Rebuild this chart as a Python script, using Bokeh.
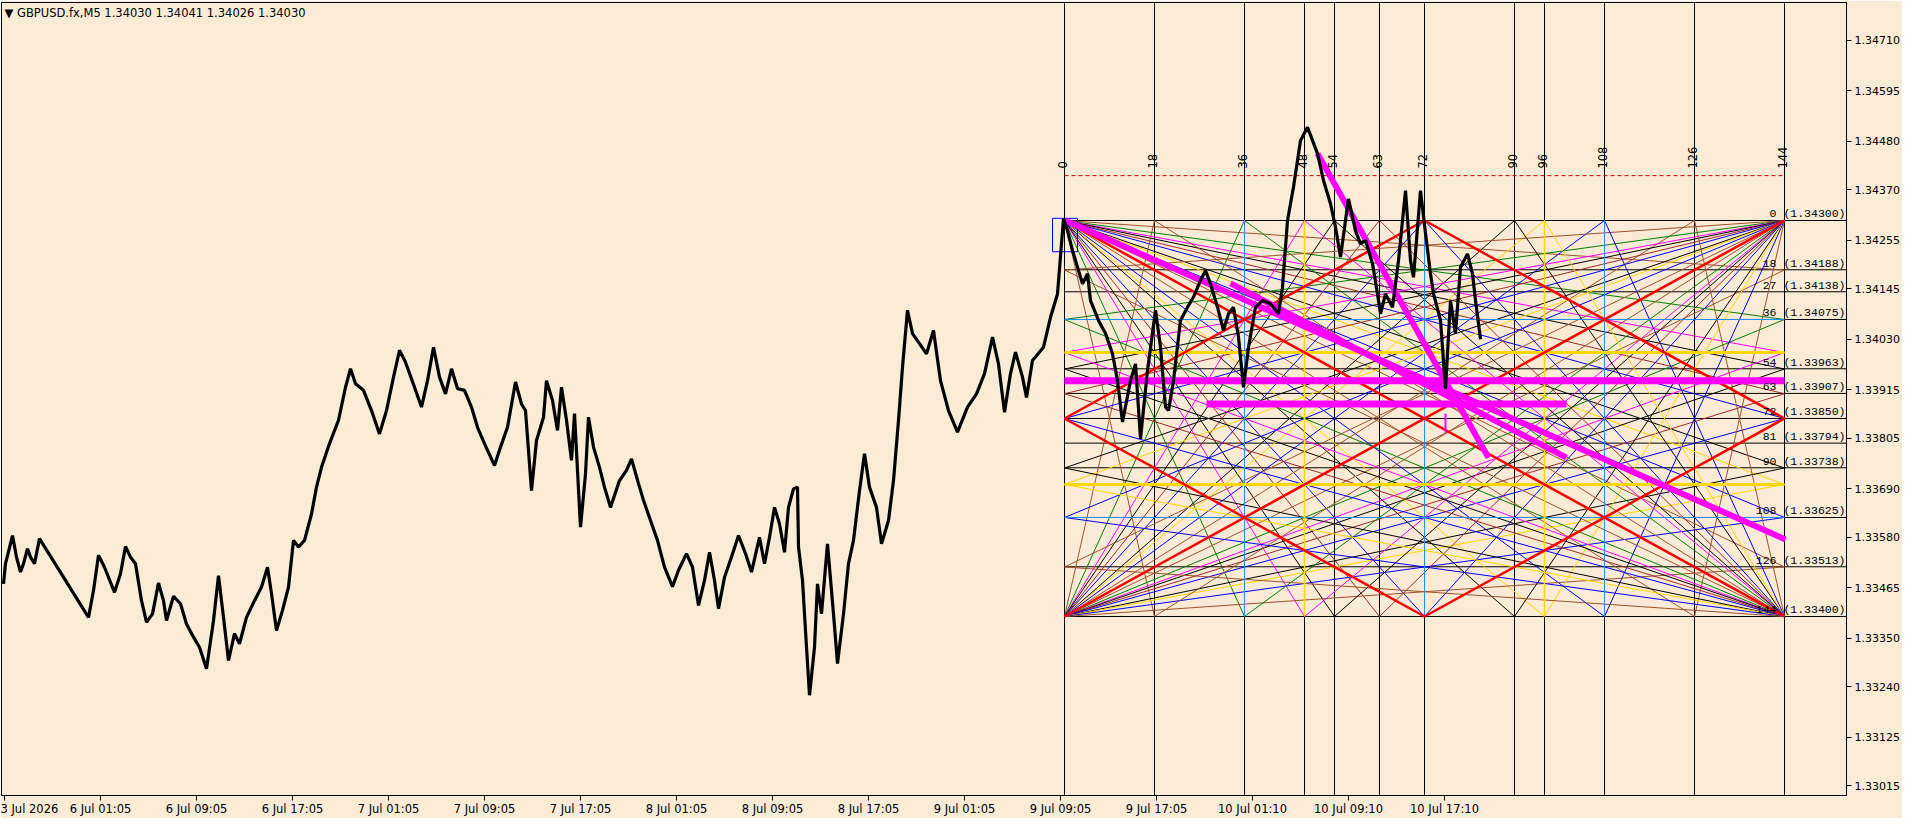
import math
from bokeh.plotting import figure
from bokeh.models import Range1d, FixedTicker, NumeralTickFormatter, Label
from bokeh.core.properties import value
from bokeh.embed import file_html
from bokeh.resources import INLINE

BG = "#FAEBD7"

# close line, x = bar number on the M5 chart (one pixel per bar)
bar_x = [3, 5, 12, 16, 20, 23, 27, 30, 34, 39, 88, 93, 98, 104, 114, 120, 125, 130, 135, 141,
         146, 152, 158, 163, 166, 173, 180, 186, 193, 199, 206, 213, 218, 223, 228, 234, 239,
         246, 254, 261, 267, 271, 276, 282, 288, 293, 298, 304, 311, 316, 321, 329, 338, 345,
         350, 355, 363, 371, 379, 386, 393, 399, 405, 414, 421, 427, 433, 439, 445, 451, 457,
         464, 471, 477, 484, 494, 500, 507, 515, 521, 525, 531, 536, 543, 546, 552, 557, 561,
         566, 571, 574, 580, 585, 588, 593, 599, 604, 610, 619, 626, 631, 638, 643, 650, 657,
         664, 672, 678, 686, 692, 698, 704, 709, 714, 718, 724, 731, 738, 745, 751, 759, 764,
         769, 774, 779, 784, 788, 793, 797, 798, 802, 805, 809, 814, 817, 821, 827, 833, 837,
         843, 848, 853, 859, 864, 869, 876, 881, 888, 893, 898, 902, 907, 912, 919, 926, 933,
         940, 948, 957, 967, 976, 984, 992, 998, 1004, 1010, 1015, 1022, 1026, 1032, 1043,
         1050, 1057, 1063, 1067, 1072, 1077, 1082, 1087, 1090, 1098, 1105, 1112, 1117, 1122,
         1130, 1135, 1140, 1147, 1155, 1160, 1165, 1168, 1173, 1180, 1187, 1193, 1200, 1205,
         1210, 1217, 1223, 1228, 1233, 1238, 1243, 1248, 1255, 1262, 1270, 1278, 1282, 1287,
         1293, 1300, 1307, 1312, 1317, 1323, 1330, 1335, 1340, 1345, 1348, 1355, 1360, 1365,
         1372, 1377, 1380, 1385, 1392, 1398, 1405, 1410, 1413, 1420, 1425, 1430, 1433, 1440,
         1445, 1450, 1455, 1460, 1467, 1472, 1475, 1480]
close_px = [1.33474, 1.33520, 1.33584, 1.33535, 1.33501, 1.33520, 1.33554, 1.33535, 1.33520,
            1.33577, 1.33398, 1.33459, 1.33539, 1.33512, 1.33455, 1.33497, 1.33559, 1.33535,
            1.33520, 1.33436, 1.33387, 1.33406, 1.33476, 1.33436, 1.33391, 1.33446, 1.33429,
            1.33383, 1.33353, 1.33330, 1.33281, 1.33391, 1.33493, 1.33398, 1.33300, 1.33361,
            1.33338, 1.33398, 1.33436, 1.33467, 1.33512, 1.33452, 1.33368, 1.33414, 1.33467,
            1.33573, 1.33558, 1.33573, 1.33633, 1.33694, 1.33739, 1.33793, 1.33846, 1.33921,
            1.33963, 1.33929, 1.33914, 1.33868, 1.33815, 1.33868, 1.33944, 1.34005, 1.33978,
            1.33921, 1.33876, 1.33936, 1.34012, 1.33944, 1.33906, 1.33963, 1.33918, 1.33914,
            1.33876, 1.33830, 1.33793, 1.33743, 1.33785, 1.33830, 1.33933, 1.33883, 1.33868,
            1.33686, 1.33800, 1.33853, 1.33936, 1.33891, 1.33823, 1.33921, 1.33846, 1.33755,
            1.33861, 1.33603, 1.33724, 1.33853, 1.33785, 1.33739, 1.33694, 1.33648, 1.33709,
            1.33732, 1.33758, 1.33702, 1.33664, 1.33618, 1.33573, 1.33512, 1.33468, 1.33505,
            1.33543, 1.33512, 1.33425, 1.33482, 1.33546, 1.33482, 1.33418, 1.33489, 1.33535,
            1.33584, 1.33543, 1.33501, 1.33580, 1.33520, 1.33580, 1.33648, 1.33611, 1.33546,
            1.33648, 1.33690, 1.33694, 1.33558, 1.33482, 1.33368, 1.33221, 1.33330, 1.33474,
            1.33406, 1.33565, 1.33406, 1.33293, 1.33406, 1.33520, 1.33573, 1.33686, 1.33770,
            1.33694, 1.33648, 1.33565, 1.33618, 1.33709, 1.33846, 1.33967, 1.34096, 1.34043,
            1.34020, 1.33997, 1.34050, 1.33936, 1.33868, 1.33819, 1.33876, 1.33906, 1.33952,
            1.34035, 1.33974, 1.33864, 1.33952, 1.34001, 1.33944, 1.33898, 1.33982, 1.34012,
            1.34080, 1.34133, 1.34304, 1.34277, 1.34232, 1.34194, 1.34156, 1.34179, 1.34118,
            1.34073, 1.34043, 1.33997, 1.33936, 1.33842, 1.33936, 1.33974, 1.33804, 1.33959,
            1.34096, 1.34012, 1.33876, 1.33868, 1.33936, 1.34073, 1.34103, 1.34126, 1.34164,
            1.34186, 1.34156, 1.34103, 1.34050, 1.34088, 1.34103, 1.34035, 1.33921, 1.34012,
            1.34103, 1.34118, 1.34111, 1.34088, 1.34148, 1.34300, 1.34376, 1.34482, 1.34512,
            1.34482, 1.34452, 1.34391, 1.34338, 1.34285, 1.34217, 1.34300, 1.34349, 1.34277,
            1.34247, 1.34255, 1.34202, 1.34133, 1.34088, 1.34133, 1.34103, 1.34209, 1.34368,
            1.34209, 1.34171, 1.34368, 1.34271, 1.34179, 1.34134, 1.34073, 1.33918, 1.34118,
            1.34043, 1.34194, 1.34224, 1.34179, 1.34118, 1.34030]

last_price = 1.34030
title_text = "\u25bc GBPUSD.fx,M5  1.34030 1.34041 1.34026 1.34030"

date_labels = ["3 Jul 2026", "6 Jul 01:05", "6 Jul 09:05", "6 Jul 17:05", "7 Jul 01:05",
               "7 Jul 09:05", "7 Jul 17:05", "8 Jul 01:05", "8 Jul 09:05", "8 Jul 17:05",
               "9 Jul 01:05", "9 Jul 09:05", "9 Jul 17:05", "10 Jul 01:10", "10 Jul 09:10",
               "10 Jul 17:10"]
date_ticks = [4, 100, 196, 292, 388, 484, 580, 676, 772, 868, 964, 1060, 1156, 1252, 1348, 1444]
price_ticks = [1.34710, 1.34595, 1.34480, 1.34370, 1.34255, 1.34145, 1.34030, 1.33915, 1.33805,
               1.33690, 1.33580, 1.33465, 1.33350, 1.33240, 1.33125, 1.33015]

# Gann square 144 x 144
gann_bar0 = 1064
bars_per_unit = 5
gann_top = 1.34300
price_per_unit = 0.0000625
grid_times = [0, 18, 36, 48, 54, 63, 72, 90, 96, 108, 126, 144]
level_units = [0, 18, 27, 36, 54, 63, 72, 81, 90, 108, 126, 144]
level_prices = [1.34300, 1.34188, 1.34138, 1.34075, 1.33963, 1.33907, 1.33850, 1.33794,
                1.33738, 1.33625, 1.33513, 1.33400]
fan_divs = [18, 36, 48, 54, 63, 72, 90, 96, 108, 126]
fan_colors = ["#A0522D", "#008000", "#FF00FF", "#000000", "#A52A2A",
              "#0000FF", "#000000", "#FFD700", "#0000FF", "#A0522D"]
fan_time_divs = [18, 36, 48, 54, 63, 72, 90, 96, 108, 126]
blue_units = [36, 72, 108]
gold_units = [48, 96]
marker_price = 1.34402

# hand drawn trend lines (magenta)
mag_x0 = [1064, 1206, 1065, 1230, 1317, 1445]
mag_y0 = [1.33936, 1.33883, 1.34300, 1.34157, 1.34452, 1.33861]
mag_x1 = [1784, 1566, 1785, 1566, 1488, 1445]
mag_y1 = [1.33936, 1.33883, 1.33575, 1.33761, 1.33761, 1.33818]
mag_w = [7, 7, 6, 6, 6, 2]
sel_box = [1052, 1077, 1.34305, 1.34229]


def gx(t):
    return gann_bar0 + bars_per_unit * t


def gp(u):
    return gann_top - price_per_unit * u


x_lo, x_hi = 1, 1846
y_lo = 1.3299318
y_hi = 1.3479545

p = figure(frame_width=1845, frame_height=793,
           x_range=Range1d(x_lo, x_hi), y_range=Range1d(y_lo, y_hi),
           output_backend="svg", toolbar_location=None, y_axis_location="right",
           min_border_left=1, min_border_top=2, min_border_right=0, min_border_bottom=0,
           background_fill_color=BG, border_fill_color=BG, outline_line_color="black")
p.grid.visible = False

# axes
p.yaxis.ticker = FixedTicker(ticks=price_ticks)
p.yaxis.formatter = NumeralTickFormatter(format="0.00000")
p.yaxis.major_tick_out = 5
p.yaxis.major_tick_in = 0
p.yaxis.minor_tick_out = 0
p.yaxis.minor_tick_in = 0
p.yaxis.major_label_standoff = 3
p.yaxis.major_label_text_font = "DejaVu Sans"
p.yaxis.major_label_text_font_size = "11px"
p.yaxis.major_label_text_color = "black"
p.yaxis.axis_line_color = "black"

p.xaxis.ticker = FixedTicker(ticks=date_ticks)
p.xaxis.major_label_overrides = {t: s for t, s in zip(date_ticks, date_labels)}
p.xaxis.major_label_text_align = "left"
p.xaxis.major_tick_out = 5
p.xaxis.major_tick_in = 0
p.xaxis.minor_tick_out = 0
p.xaxis.minor_tick_in = 0
p.xaxis.major_label_standoff = 1
p.xaxis.major_label_text_font = "DejaVu Sans"
p.xaxis.major_label_text_font_size = "11.5px"
p.xaxis.major_label_text_color = "black"
p.xaxis.axis_line_color = "black"

# gann grid: verticals full height, levels to the right edge
p.segment(x0=[gx(t) for t in grid_times], y0=y_lo, x1=[gx(t) for t in grid_times], y1=y_hi,
          line_color="black", line_width=1)
p.segment(x0=gx(0), y0=level_prices, x1=x_hi, y1=level_prices, line_color="black", line_width=1)

# fans from the four corners
fx0, fy0, fx1, fy1, fc = [], [], [], [], []
for tc, pc in [(0, 0), (0, 144), (144, 0), (144, 144)]:
    for d, c in zip(fan_divs, fan_colors):
        fx0.append(gx(tc)); fy0.append(gp(pc)); fx1.append(gx(144 - tc)); fy1.append(gp(d)); fc.append(c)
    for d in fan_time_divs:
        c = fan_colors[fan_divs.index(d)]
        fx0.append(gx(tc)); fy0.append(gp(pc)); fx1.append(gx(d)); fy1.append(gp(144 - pc)); fc.append(c)
p.segment(x0=fx0, y0=fy0, x1=fx1, y1=fy1, line_color=fc, line_width=1)

# blue and gold lines of the square
p.segment(x0=gx(0), y0=[gp(u) for u in blue_units if u != 72], x1=gx(144),
          y1=[gp(u) for u in blue_units if u != 72], line_color="#1E90FF", line_width=1)
p.segment(x0=[gx(u) for u in blue_units], y0=gp(0), x1=[gx(u) for u in blue_units], y1=gp(144),
          line_color="#1E90FF", line_width=1)
p.segment(x0=[gx(u) for u in gold_units], y0=gp(0), x1=[gx(u) for u in gold_units], y1=gp(144),
          line_color="#FFD700", line_width=1.5)
p.segment(x0=gx(0), y0=[gp(u) for u in gold_units], x1=gx(144), y1=[gp(u) for u in gold_units],
          line_color="#FFD700", line_width=3)

# red 1x1 lines: both diagonals and the inner diamond
red_t = [[0, 144], [0, 144], [0, 72, 144, 72, 0]]
red_u = [[0, 144], [144, 0], [72, 0, 72, 144, 72]]
p.multi_line(xs=[[gx(t) for t in ts] for ts in red_t], ys=[[gp(u) for u in us] for us in red_u],
             line_color="red", line_width=2.5)

# dashed marker line above the square and selection box
p.segment(x0=gx(0), y0=marker_price, x1=gx(144), y1=marker_price,
          line_color="#D00000", line_width=1, line_dash="4 3")
p.quad(left=sel_box[0], right=sel_box[1], top=sel_box[2], bottom=sel_box[3],
       fill_alpha=0, line_color="#0000FF", line_width=1)

# magenta trend lines
p.segment(x0=mag_x0, y0=mag_y0, x1=mag_x1, y1=mag_y1, line_color="#FF00FF", line_width=mag_w)

# price
p.line(bar_x, close_px, line_color="black", line_width=3.2)

# texts
p.text(x=x_hi - 1, y=level_prices, text=["%d (%.5f)" % (u, v) for u, v in zip(level_units, level_prices)],
       text_font=value("Liberation Mono"), text_font_size="11.5px", text_align="right",
       text_baseline="bottom", text_color="black")
p.text(x=[gx(t) - 2.5 for t in grid_times], y=1.34418, text=[str(t) for t in grid_times],
       angle=math.pi / 2, text_font=value("DejaVu Sans"), text_font_size="11.5px",
       text_align="left", text_baseline="alphabetic", text_color="black")

p.add_layout(Label(x=4, y=1.347727, text=title_text, text_font="DejaVu Sans",
                   text_font_size="11.5px", text_baseline="middle", text_color="black"))
p.add_layout(Label(x=x_hi + 3, y=last_price, text="%.5f" % last_price, text_font="DejaVu Sans",
                   text_font_size="11px", text_baseline="middle", text_color="white",
                   background_fill_color="black", padding=2))

open("out.html", "w").write(file_html(p, INLINE))
